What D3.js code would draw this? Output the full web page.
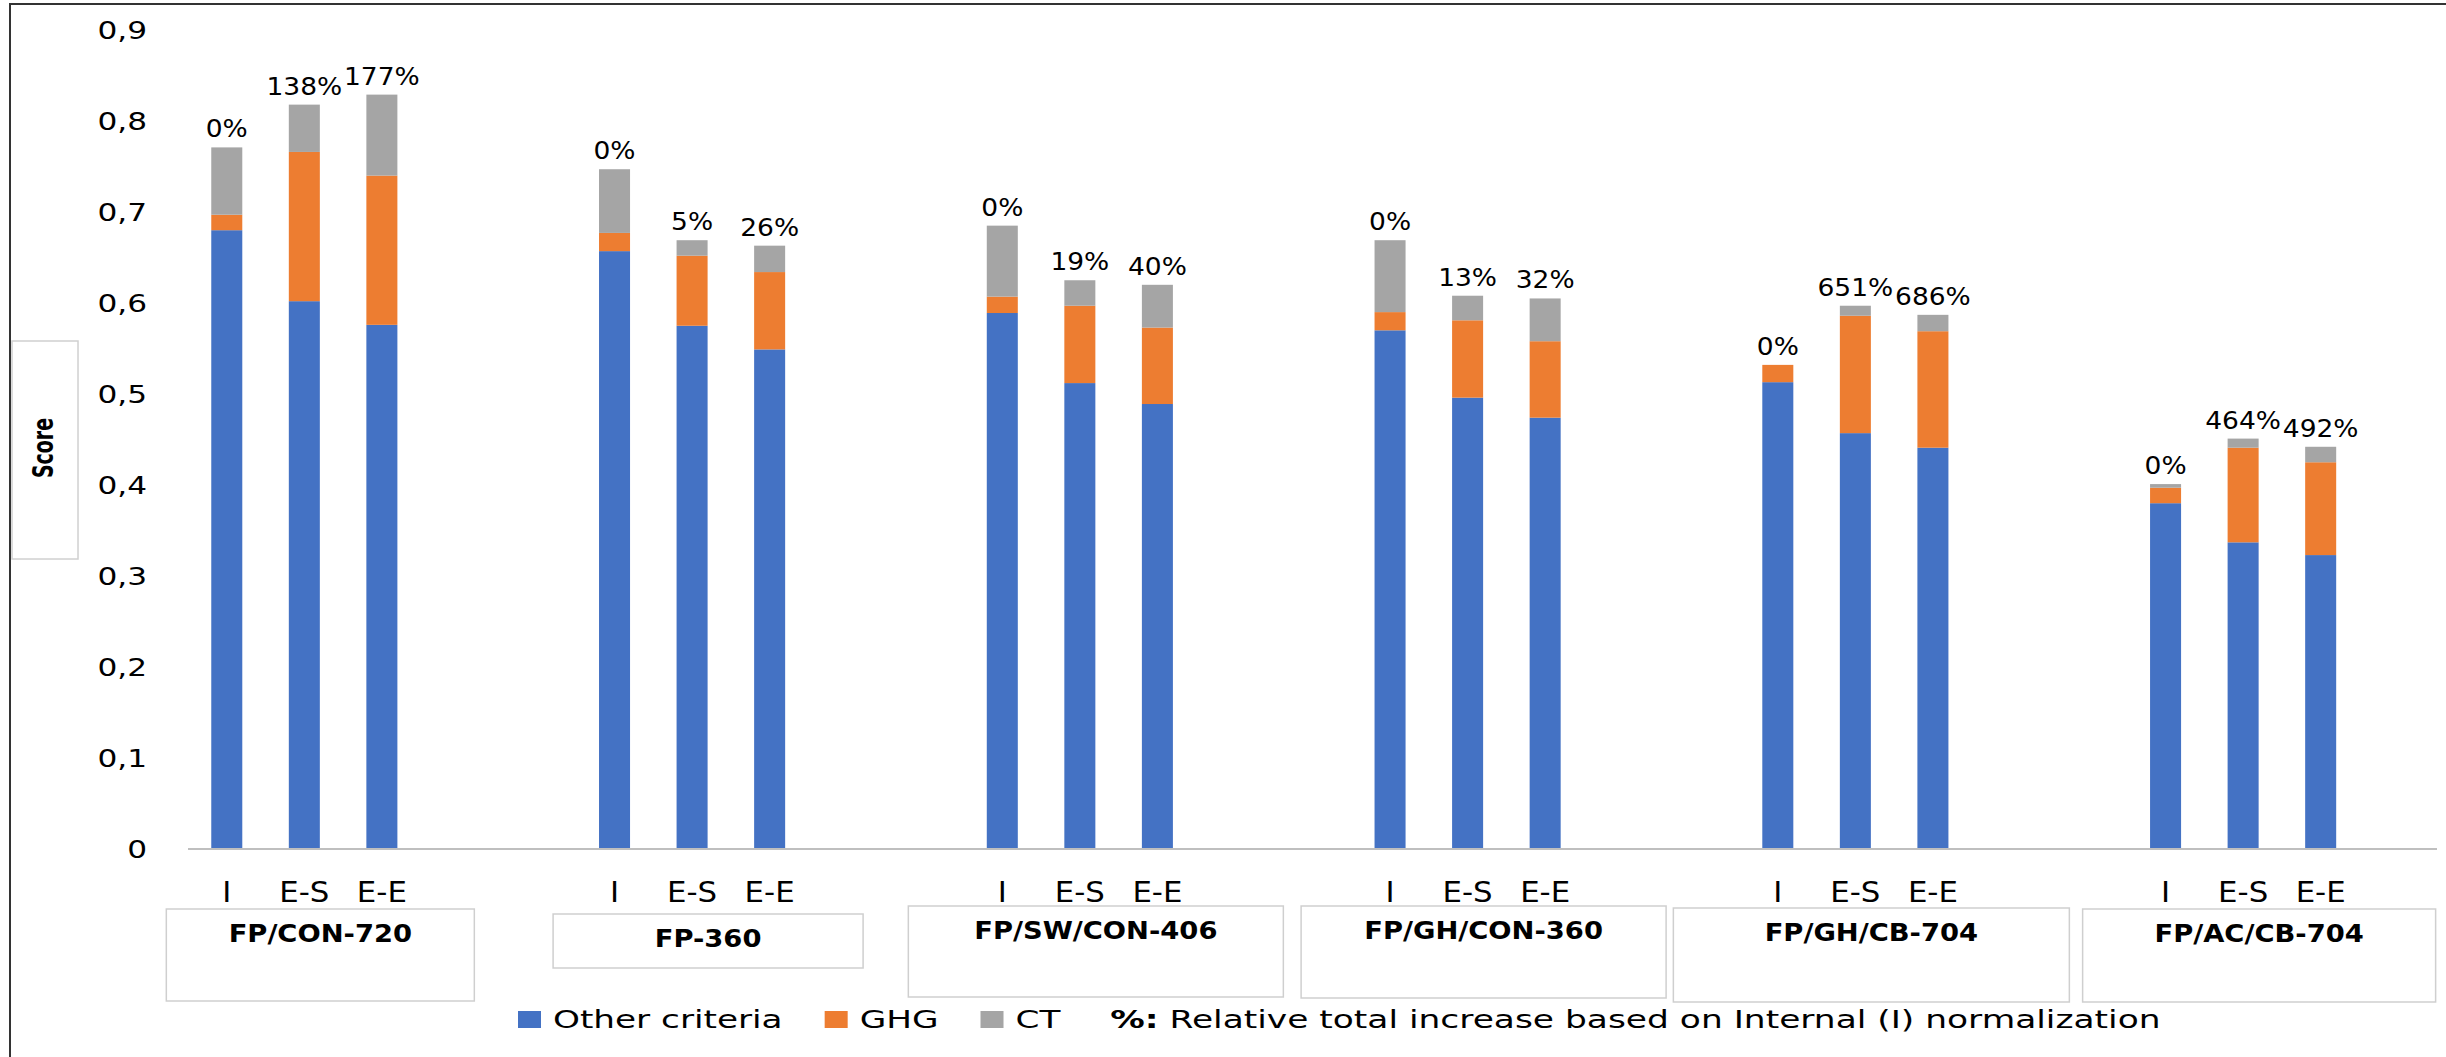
<!DOCTYPE html>
<html>
<head>
<meta charset="utf-8">
<script src="https://cdn.jsdelivr.net/npm/d3@7"></script>
<style>
  html, body { margin: 0; padding: 0; background: #fff; overflow: hidden; }
  svg { display: block; }
  text { font-family: "DejaVu Sans", sans-serif; fill: #000; }
</style>
</head>
<body>
<svg id="chart" width="2446" height="1057"></svg>
<script>
// ---- data -------------------------------------------------------------
const groups = ["FP/CON-720", "FP-360", "FP/SW/CON-406", "FP/GH/CON-360", "FP/GH/CB-704", "FP/AC/CB-704"];
const methods = ["I", "E-S", "E-E"];

// one value per (group, method), in group order
const otherCriteria = [0.680, 0.602, 0.576, 0.657, 0.575, 0.549, 0.589, 0.512, 0.489,
                       0.570, 0.496, 0.474, 0.513, 0.457, 0.441, 0.380, 0.337, 0.323];
const ghg           = [0.017, 0.164, 0.164, 0.020, 0.077, 0.085, 0.018, 0.085, 0.084,
                       0.020, 0.085, 0.084, 0.019, 0.129, 0.128, 0.017, 0.104, 0.102];
const ct            = [0.074, 0.052, 0.089, 0.070, 0.017, 0.029, 0.078, 0.028, 0.047,
                       0.079, 0.027, 0.047, 0.000, 0.011, 0.018, 0.004, 0.010, 0.017];
const totalIncrease = ["0%", "138%", "177%", "0%", "5%", "26%", "0%", "19%", "40%",
                       "0%", "13%", "32%", "0%", "651%", "686%", "0%", "464%", "492%"];

const seriesKeys   = ["other", "ghg", "ct"];
const seriesNames  = ["Other criteria", "GHG", "CT"];
const seriesColors = ["#4472C4", "#ED7D31", "#A5A5A5"];
const yTicks = [0, 0.1, 0.2, 0.3, 0.4, 0.5, 0.6, 0.7, 0.8, 0.9];
const noteBold = "%:";
const noteText = " Relative total increase based on Internal (I) normalization";

// ---- helpers ----------------------------------------------------------
// widen a text element horizontally around its anchor point
function stretch(sel, sx) {
  sel.each(function () {
    const t = d3.select(this);
    const x = +t.attr("x") || 0;
    t.attr("x", x / sx).attr("transform", `scale(${sx},1)`);
  });
}

const svg = d3.select("#chart");

// outer frame (top and left edges)
svg.append("path")
  .attr("d", "M10,1060 L10,4 L2450,4")
  .attr("fill", "none").attr("stroke", "#333").attr("stroke-width", 2);

// ---- scales -----------------------------------------------------------
// five slots per group (three bars + two empty), last group keeps one spacer
const slots = [];
groups.forEach((g, gi) => {
  for (let k = 0; k < 5; k++) {
    if (gi === groups.length - 1 && k === 4) break;
    slots.push(`${gi}-${k}`);
  }
});

const plotLeft = 188, plotRight = 2437;
const x = d3.scaleBand().domain(slots).range([plotLeft, plotRight])
  .paddingInner(0.6).paddingOuter(0.3);
const y = d3.scaleLinear().domain([0, 0.9]).range([849, 30]);

const rows = [];
groups.forEach((g, gi) => methods.forEach((m, mi) => {
  const i = gi * 3 + mi;
  rows.push({ slot: `${gi}-${mi}`, group: g, method: m,
              other: otherCriteria[i], ghg: ghg[i], ct: ct[i], label: totalIncrease[i] });
}));

const stacked = d3.stack().keys(seriesKeys)(rows);

// ---- y axis -----------------------------------------------------------
const commaLocale = d3.formatLocale({ decimal: ",", thousands: ".", grouping: [3], currency: ["", ""] });
const fmt1 = commaLocale.format(".1f");
const yAxis = svg.append("g")
  .attr("transform", `translate(${plotLeft},0)`)
  .call(d3.axisLeft(y).tickValues(yTicks).tickSize(0).tickPadding(41)
        .tickFormat(d => d === 0 ? "0" : fmt1(d)));
yAxis.select(".domain").remove();
yAxis.selectAll("text")
  .attr("font-family", "DejaVu Sans").attr("font-size", 24).attr("fill", "#000")
  .attr("dy", "0.36em");
stretch(yAxis.selectAll("text"), 1.3);

// axis title in its box
svg.append("rect").attr("x", 12).attr("y", 341).attr("width", 66).attr("height", 218)
  .attr("fill", "#fff").attr("stroke", "#d0d0d0").attr("stroke-width", 1.5);
svg.append("text")
  .attr("transform", "translate(43,448) scale(1.45,1) rotate(-90)")
  .attr("text-anchor", "middle").attr("dy", "0.36em")
  .attr("font-size", 19).attr("font-weight", "bold")
  .text("Score");

// ---- bars -------------------------------------------------------------
svg.append("g").selectAll("g")
  .data(stacked).join("g")
  .attr("fill", (d, i) => seriesColors[i])
  .selectAll("rect")
  .data(d => d).join("rect")
  .attr("x", d => x(d.data.slot))
  .attr("width", x.bandwidth())
  .attr("y", d => y(d[1]))
  .attr("height", d => Math.max(0, y(d[0]) - y(d[1])));

// category baseline
svg.append("line")
  .attr("x1", plotLeft).attr("x2", plotRight)
  .attr("y1", y(0)).attr("y2", y(0))
  .attr("stroke", "#bfbfbf").attr("stroke-width", 2);

// total-increase labels above each bar
const pct = svg.append("g").selectAll("text")
  .data(rows).join("text")
  .attr("x", d => x(d.slot) + x.bandwidth() / 2)
  .attr("y", d => y(d.other + d.ghg + d.ct) - 10)
  .attr("text-anchor", "middle")
  .attr("font-size", 25)
  .text(d => d.label);
stretch(pct, 1.06);

// method labels under the bars
const cat = svg.append("g").selectAll("text")
  .data(rows).join("text")
  .attr("x", d => x(d.slot) + x.bandwidth() / 2)
  .attr("y", 902)
  .attr("text-anchor", "middle")
  .attr("font-size", 28)
  .text(d => d.method);
stretch(cat, 1.1);

// group name boxes
const boxLayout = [
  { w: 308, top: 909, bottom: 1001 },
  { w: 310, top: 914, bottom: 968 },
  { w: 375, top: 906, bottom: 997 },
  { w: 365, top: 906, bottom: 998 },
  { w: 396, top: 908, bottom: 1002 },
  { w: 353, top: 909, bottom: 1002 }
];
const boxes = svg.append("g").selectAll("g")
  .data(groups).join("g");
boxes.append("rect")
  .attr("x", (g, i) => x(`${i}-1`) + x.bandwidth() / 2 + 16 - boxLayout[i].w / 2)
  .attr("y", (g, i) => boxLayout[i].top)
  .attr("width", (g, i) => boxLayout[i].w)
  .attr("height", (g, i) => boxLayout[i].bottom - boxLayout[i].top)
  .attr("fill", "#fff").attr("stroke", "#cfcfcf").attr("stroke-width", 1.5);
const boxText = boxes.append("text")
  .attr("x", (g, i) => x(`${i}-1`) + x.bandwidth() / 2 + 16)
  .attr("y", (g, i) => boxLayout[i].top + 33)
  .attr("text-anchor", "middle")
  .attr("font-size", 24).attr("font-weight", "bold")
  .text(g => g);
stretch(boxText, 1.14);

// ---- legend -----------------------------------------------------------
const legendSx = 1.37;
const legend = svg.append("g");
let lx = 518;
const baseY = 1028;
seriesNames.forEach((name, i) => {
  legend.append("rect")
    .attr("x", lx).attr("y", baseY - 17).attr("width", 23).attr("height", 17)
    .attr("fill", seriesColors[i]);
  lx += 23 + 12;
  const t = legend.append("text")
    .attr("x", lx).attr("y", baseY).attr("font-size", 25).text(name);
  const w = t.node().getComputedTextLength() * legendSx;
  stretch(t, legendSx);
  lx += w + (i === seriesNames.length - 1 ? 50 : 42);
});
const note = legend.append("text")
  .attr("x", lx).attr("y", baseY).attr("font-size", 25);
note.append("tspan").attr("font-weight", "bold").text(noteBold);
note.append("tspan").text(noteText);
const noteW = note.node().getComputedTextLength();
stretch(note, (2161 - lx) / noteW);
</script>
</body>
</html>
